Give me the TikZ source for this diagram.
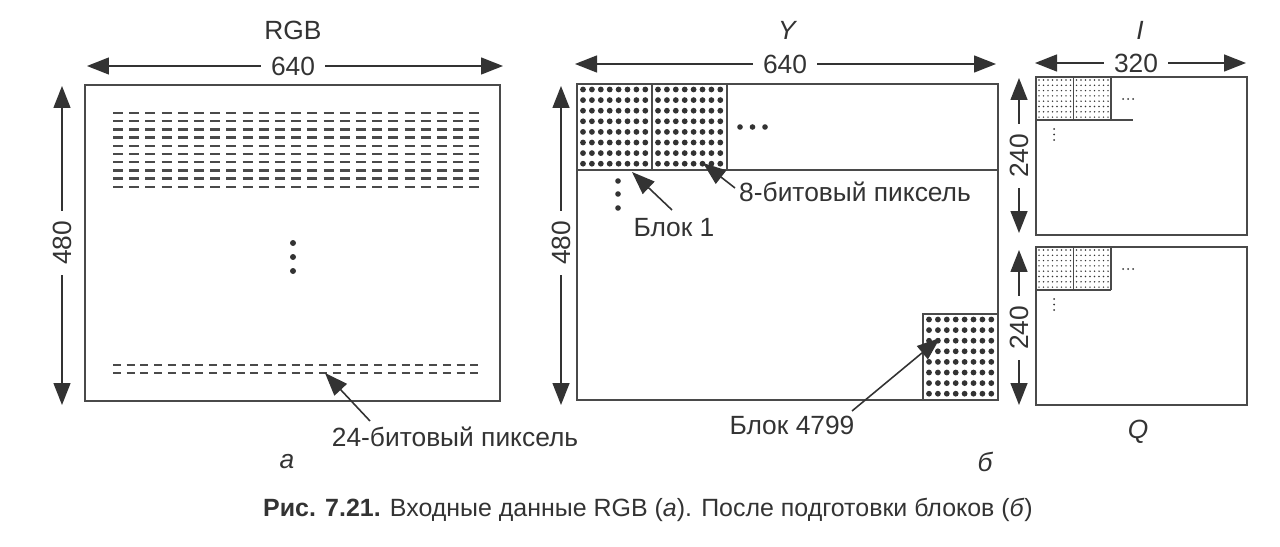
\documentclass[tikz,border=0pt]{standalone}
\usepackage{fontspec}
\setmainfont{Liberation Sans}
\usetikzlibrary{arrows.meta}
\definecolor{InkGray}{HTML}{333333}
\definecolor{LineGray}{HTML}{4a4a4a}
\tikzset{
  % Frame styles
  framebox/.style={draw=LineGray, line width=1.1pt},
  gridline/.style={draw=LineGray, line width=1.1pt},
  % Arrow styles
  dimarrow/.style={-{Triangle[length=0.44cm, width=0.34cm]}, line width=0.8pt, InkGray},
  ptrarrow/.style={-{Triangle[length=0.46cm, width=0.34cm]}, line width=0.9pt, InkGray},
  % Text styles
  dimlabel/.style={font=\fontsize{15}{17}\selectfont, text=InkGray, inner xsep=0.2cm, inner ysep=0.05cm},
  textlabel/.style={font=\fontsize{15}{17}\selectfont, text=InkGray, inner sep=1pt},
  titlelabel/.style={font=\fontsize{15}{17}\selectfont\itshape, text=InkGray, inner sep=1pt},
  % Pixel rows
  rowdash/.style={LineGray, line width=1.4pt, dash pattern=on 0.2cm off 0.124cm},
  rowfine/.style={LineGray, line width=0.9pt, dash pattern=on 0.16cm off 0.115cm}
}
\begin{document}
\begin{tikzpicture}[x=0.02cm, y=-0.02cm]
  \useasboundingbox (0,0) rectangle (1280,547);

  % ---------- (a) RGB input ----------
  \node[textlabel] (rgbtitle) at (293,30) {RGB};
  \draw[framebox] (85,85) rectangle (500,401);
  \foreach \k in {0,...,9}
    \draw[rowdash] (113,113+8.2*\k) -- (480,113+8.2*\k);
  \draw[rowfine] (113,365) -- (480,365);
  \draw[rowfine] (113,373) -- (480,373);
  \foreach \yy in {243,257,271}
    \fill[InkGray] (293,\yy) circle[radius=3];

  % width and height of RGB
  \node[dimlabel] (rgbw) at (293,66) {640};
  \coordinate (rgbwL) at (87,66);
  \coordinate (rgbwR) at (503,66);
  \draw[dimarrow] (rgbw) -- (rgbwL);
  \draw[dimarrow] (rgbw) -- (rgbwR);
  \node[dimlabel, rotate=90] (rgbh) at (62,243) {480};
  \coordinate (rgbhT) at (62,86);
  \coordinate (rgbhB) at (62,405);
  \draw[dimarrow] (rgbh) -- (rgbhT);
  \draw[dimarrow] (rgbh) -- (rgbhB);

  % 24-bit pixel pointer
  \node[textlabel] (pix24) at (455,437) {24-битовый пиксель};
  \coordinate (pix24t) at (370,421);
  \coordinate (pix24h) at (325,373);
  \draw[ptrarrow] (pix24t) -- (pix24h);
  \node[titlelabel] (capa) at (287,462) {а};

  % ---------- (b) Y plane ----------
  \node[titlelabel] (ytitle) at (787,30) {Y};
  \draw[framebox] (577,84) rectangle (998,400);
  \draw[gridline] (577,170) -- (998,170);
  \draw[gridline] (652,84) -- (652,170);
  \draw[gridline] (727,84) -- (727,170);
  \draw[gridline] (923,400) -- (923,314) -- (998,314);
  % 8x8 pixels per block
  \foreach \bx/\by in {577/84, 652/84, 923/314}
    \foreach \i in {0,...,7}
      \foreach \j in {0,...,7}
        \fill[InkGray] (\bx+6+8.9*\i,\by+5.5+10.6*\j) circle[radius=2.9];
  \foreach \xx in {740,752.5,765}
    \fill[InkGray] (\xx,127) circle[radius=2.8];
  \foreach \yy in {181,194,208}
    \fill[InkGray] (618,\yy) circle[radius=2.8];

  % width and height of Y
  \node[dimlabel] (yw) at (785,64) {640};
  \coordinate (ywL) at (575,64);
  \coordinate (ywR) at (996,64);
  \draw[dimarrow] (yw) -- (ywL);
  \draw[dimarrow] (yw) -- (ywR);
  \node[dimlabel, rotate=90] (yh) at (561,243) {480};
  \coordinate (yhT) at (561,86);
  \coordinate (yhB) at (561,405);
  \draw[dimarrow] (yh) -- (yhT);
  \draw[dimarrow] (yh) -- (yhB);

  % block pointers
  \node[textlabel] (blk1) at (674,228) {Блок 1};
  \coordinate (blk1t) at (672,210);
  \coordinate (blk1h) at (632,172);
  \draw[ptrarrow] (blk1t) -- (blk1h);
  \node[textlabel] (pix8) at (855,192) {8-битовый пиксель};
  \coordinate (pix8t) at (735,188);
  \coordinate (pix8h) at (703,163);
  \draw[ptrarrow] (pix8t) -- (pix8h);
  \node[textlabel] (blk4799) at (792,425) {Блок 4799};
  \coordinate (blk4799t) at (852,411);
  \coordinate (blk4799h) at (940,338);
  \draw[ptrarrow] (blk4799t) -- (blk4799h);
  \node[titlelabel] (capb) at (985,462) {б};

  % ---------- (b) I and Q planes ----------
  \node[titlelabel] (ititle) at (1140,30) {I};
  \node[titlelabel] (qtitle) at (1138,432) {Q};
  \foreach \top/\ext in {77/1133, 247/1111} {
    \draw[framebox] (1036,\top) rectangle (1247,\top+158);
    \draw[gridline] (1036,\top+43) -- (\ext,\top+43);
    \draw[gridline] (1073.5,\top) -- (1073.5,\top+43);
    \draw[gridline] (1111,\top) -- (1111,\top+43);
    \foreach \bx in {1036,1073.5}
      \foreach \i in {0,...,7}
        \foreach \j in {0,...,7}
          \fill[InkGray] (\bx+3+4.5*\i,\top+3+5.3*\j) circle[radius=0.8];
    \foreach \xx in {1123,1128,1133}
      \fill[InkGray] (\xx,\top+22) circle[radius=1];
    \foreach \yy in {52,57.5,63}
      \fill[InkGray] (1054,\top+\yy) circle[radius=1];
  }

  % width of I, heights of I and Q
  \node[dimlabel] (iw) at (1136,63) {320};
  \coordinate (iwL) at (1035,63);
  \coordinate (iwR) at (1246,63);
  \draw[dimarrow] (iw) -- (iwL);
  \draw[dimarrow] (iw) -- (iwR);
  \node[dimlabel, rotate=90] (ih) at (1019,156) {240};
  \coordinate (ihT) at (1019,78);
  \coordinate (ihB) at (1019,233);
  \draw[dimarrow] (ih) -- (ihT);
  \draw[dimarrow] (ih) -- (ihB);
  \node[dimlabel, rotate=90] (qh) at (1019,328) {240};
  \coordinate (qhT) at (1019,250);
  \coordinate (qhB) at (1019,405);
  \draw[dimarrow] (qh) -- (qhT);
  \draw[dimarrow] (qh) -- (qhB);

  % caption
  \node[font=\fontsize{14.2}{16}\selectfont, text=InkGray] (caption) at (648,510)
    {\textbf{Рис. 7.21.} Входные данные RGB (\textit{а}). После подготовки блоков (\textit{б})};
\end{tikzpicture}
\end{document}
